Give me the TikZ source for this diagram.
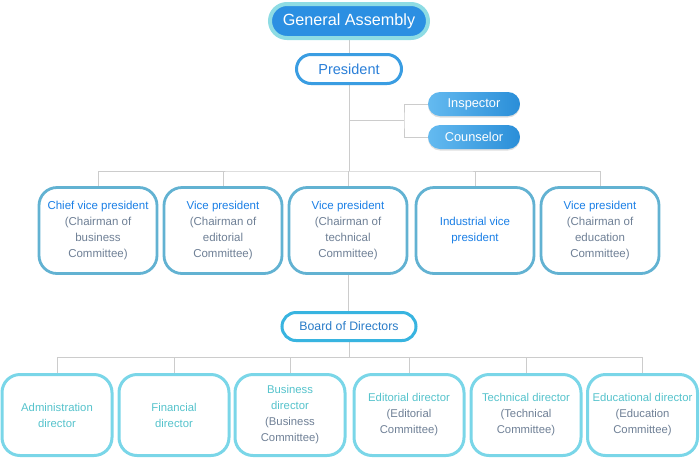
\documentclass[tikz,border=0pt]{standalone}
\usepackage{fontspec}
\setmainfont{Liberation Sans}
\usetikzlibrary{shadows,backgrounds}
\definecolor{gaBlue}{HTML}{2B8FE2}
\definecolor{gaCyan}{HTML}{8EDCE4}
\definecolor{presBlue}{HTML}{3A9DE2}
\definecolor{presText}{HTML}{2A7FD8}
\definecolor{boardLine}{HTML}{38B4E0}
\definecolor{boardText}{HTML}{2A7CC8}
\definecolor{pillL}{HTML}{64BAF0}
\definecolor{pillR}{HTML}{2A8ED8}
\definecolor{vpLine}{HTML}{62B2D2}
\definecolor{vpTitle}{HTML}{1A7FE6}
\definecolor{subGray}{HTML}{6F8096}
\definecolor{dirLine}{HTML}{7AD6E8}
\definecolor{dirTitle}{HTML}{55C3CC}
\definecolor{connGray}{HTML}{CCCCCC}
\tikzset{
  conn/.style={draw=connGray, line width=1pt},
  gabox/.style={fill=gaBlue, draw=gaCyan, line width=4pt, rounded corners=17pt,
    minimum width=158pt, minimum height=34pt, inner sep=0pt, text=white,
    font=\fontsize{16.2}{18}\selectfont, drop shadow={opacity=0.2, shadow xshift=0pt, shadow yshift=-1.5pt}},
  presbox/.style={fill=white, draw=presBlue, line width=3pt, rounded corners=14.5pt,
    minimum width=105pt, minimum height=29pt, inner sep=0pt, text=presText,
    font=\fontsize{14.5}{16}\selectfont, drop shadow={opacity=0.2, shadow xshift=0pt, shadow yshift=-1.5pt}},
  boardbox/.style={fill=white, draw=boardLine, line width=3pt, rounded corners=14pt,
    minimum width=134pt, minimum height=28pt, inner sep=0pt, text=boardText,
    font=\fontsize{12.3}{14}\selectfont, drop shadow={opacity=0.2, shadow xshift=0pt, shadow yshift=-1.5pt}},
  pill/.style={left color=pillL, right color=pillR, rounded corners=12pt,
    minimum width=92pt, minimum height=24pt, inner sep=0pt, text=white,
    font=\fontsize{12.8}{14}\selectfont, drop shadow={opacity=0.25, shadow xshift=0pt, shadow yshift=-1.5pt}},
  vpbox/.style={fill=white, draw=vpLine, line width=2.8pt, rounded corners=18pt,
    minimum width=118pt, minimum height=86pt, inner sep=0pt, align=center,
    font=\fontsize{11.5}{16}\selectfont},
  dirbox/.style={fill=white, draw=dirLine, line width=3pt, rounded corners=18pt,
    minimum width=110pt, minimum height=81pt, inner sep=0pt, align=center,
    font=\fontsize{11.3}{16}\selectfont},
}
\newcommand{\ttl}[1]{\textcolor{vpTitle}{#1}}
\newcommand{\sbt}[1]{\textcolor{subGray}{#1}}
\newcommand{\dtl}[1]{\textcolor{dirTitle}{#1}}
\begin{document}
\begin{tikzpicture}[x=1pt,y=-1pt]
\useasboundingbox (0,0) rectangle (700,459);
\coordinate (b1) at (349,120);
\coordinate (jn) at (404,120);
\coordinate (h1) at (349,171);
\coordinate (h2) at (349,357);

\node[gabox] (ga) at (349,21) {General Assembly};
\node[presbox] (pres) at (349,69) {President};
\node[pill] (insp) at (474,104) {Inspector};
\node[pill] (couns) at (474,137) {Counselor};

\node[vpbox] (vp1) at (98,230.5) {\ttl{Chief vice president}\\\sbt{(Chairman of}\\\sbt{business}\\\sbt{Committee)}};
\node[vpbox] (vp2) at (223,230.5) {\ttl{Vice president}\\\sbt{(Chairman of}\\\sbt{editorial}\\\sbt{Committee)}};
\node[vpbox] (vp3) at (348,230.5) {\ttl{Vice president}\\\sbt{(Chairman of}\\\sbt{technical}\\\sbt{Committee)}};
\node[vpbox] (vp4) at (475,230.5) {\ttl{Industrial vice}\\\ttl{president}};
\node[vpbox] (vp5) at (600,230.5) {\ttl{Vice president}\\\sbt{(Chairman of}\\\sbt{education}\\\sbt{Committee)}};

\node[boardbox] (board) at (349,326.5) {Board of Directors};

\node[dirbox] (d1) at (57,415) {\dtl{Administration}\\\dtl{director}};
\node[dirbox] (d2) at (174,415) {\dtl{Financial}\\\dtl{director}};
\node[dirbox] (d3) at (290,415) {\dtl{Business}\\\dtl{director}\\\sbt{(Business}\\\sbt{Committee)}};
\node[dirbox] (d4) at (409,415) {\dtl{Editorial director}\\\sbt{(Editorial}\\\sbt{Committee)}};
\node[dirbox] (d5) at (526,415) {\dtl{Technical director}\\\sbt{(Technical}\\\sbt{Committee)}};
\node[dirbox] (d6) at (642.5,415) {\dtl{Educational director}\\\sbt{(Education}\\\sbt{Committee)}};

\begin{scope}[on background layer]
\draw[conn] (ga.south) -- (pres.north);
\draw[conn] (pres.south) -- (h1);
\draw[conn] (b1) -- (jn);
\draw[conn] (insp.west) -| (jn) |- (couns.west);
\draw[conn] (vp1.north) |- (h1) -| (vp5.north);
\draw[conn] (vp2.north) -- (vp2.north |- h1);
\draw[conn] (vp3.north) -- (vp3.north |- h1);
\draw[conn] (vp4.north) -- (vp4.north |- h1);
\draw[conn] (vp3.south) -- (board.north -| vp3.south);
\draw[conn] (board.south) -- (h2);
\draw[conn] (d1.north) |- (h2) -| (d6.north);
\draw[conn] (d2.north) -- (d2.north |- h2);
\draw[conn] (d3.north) -- (d3.north |- h2);
\draw[conn] (d4.north) -- (d4.north |- h2);
\draw[conn] (d5.north) -- (d5.north |- h2);
\end{scope}
\end{tikzpicture}
\end{document}
